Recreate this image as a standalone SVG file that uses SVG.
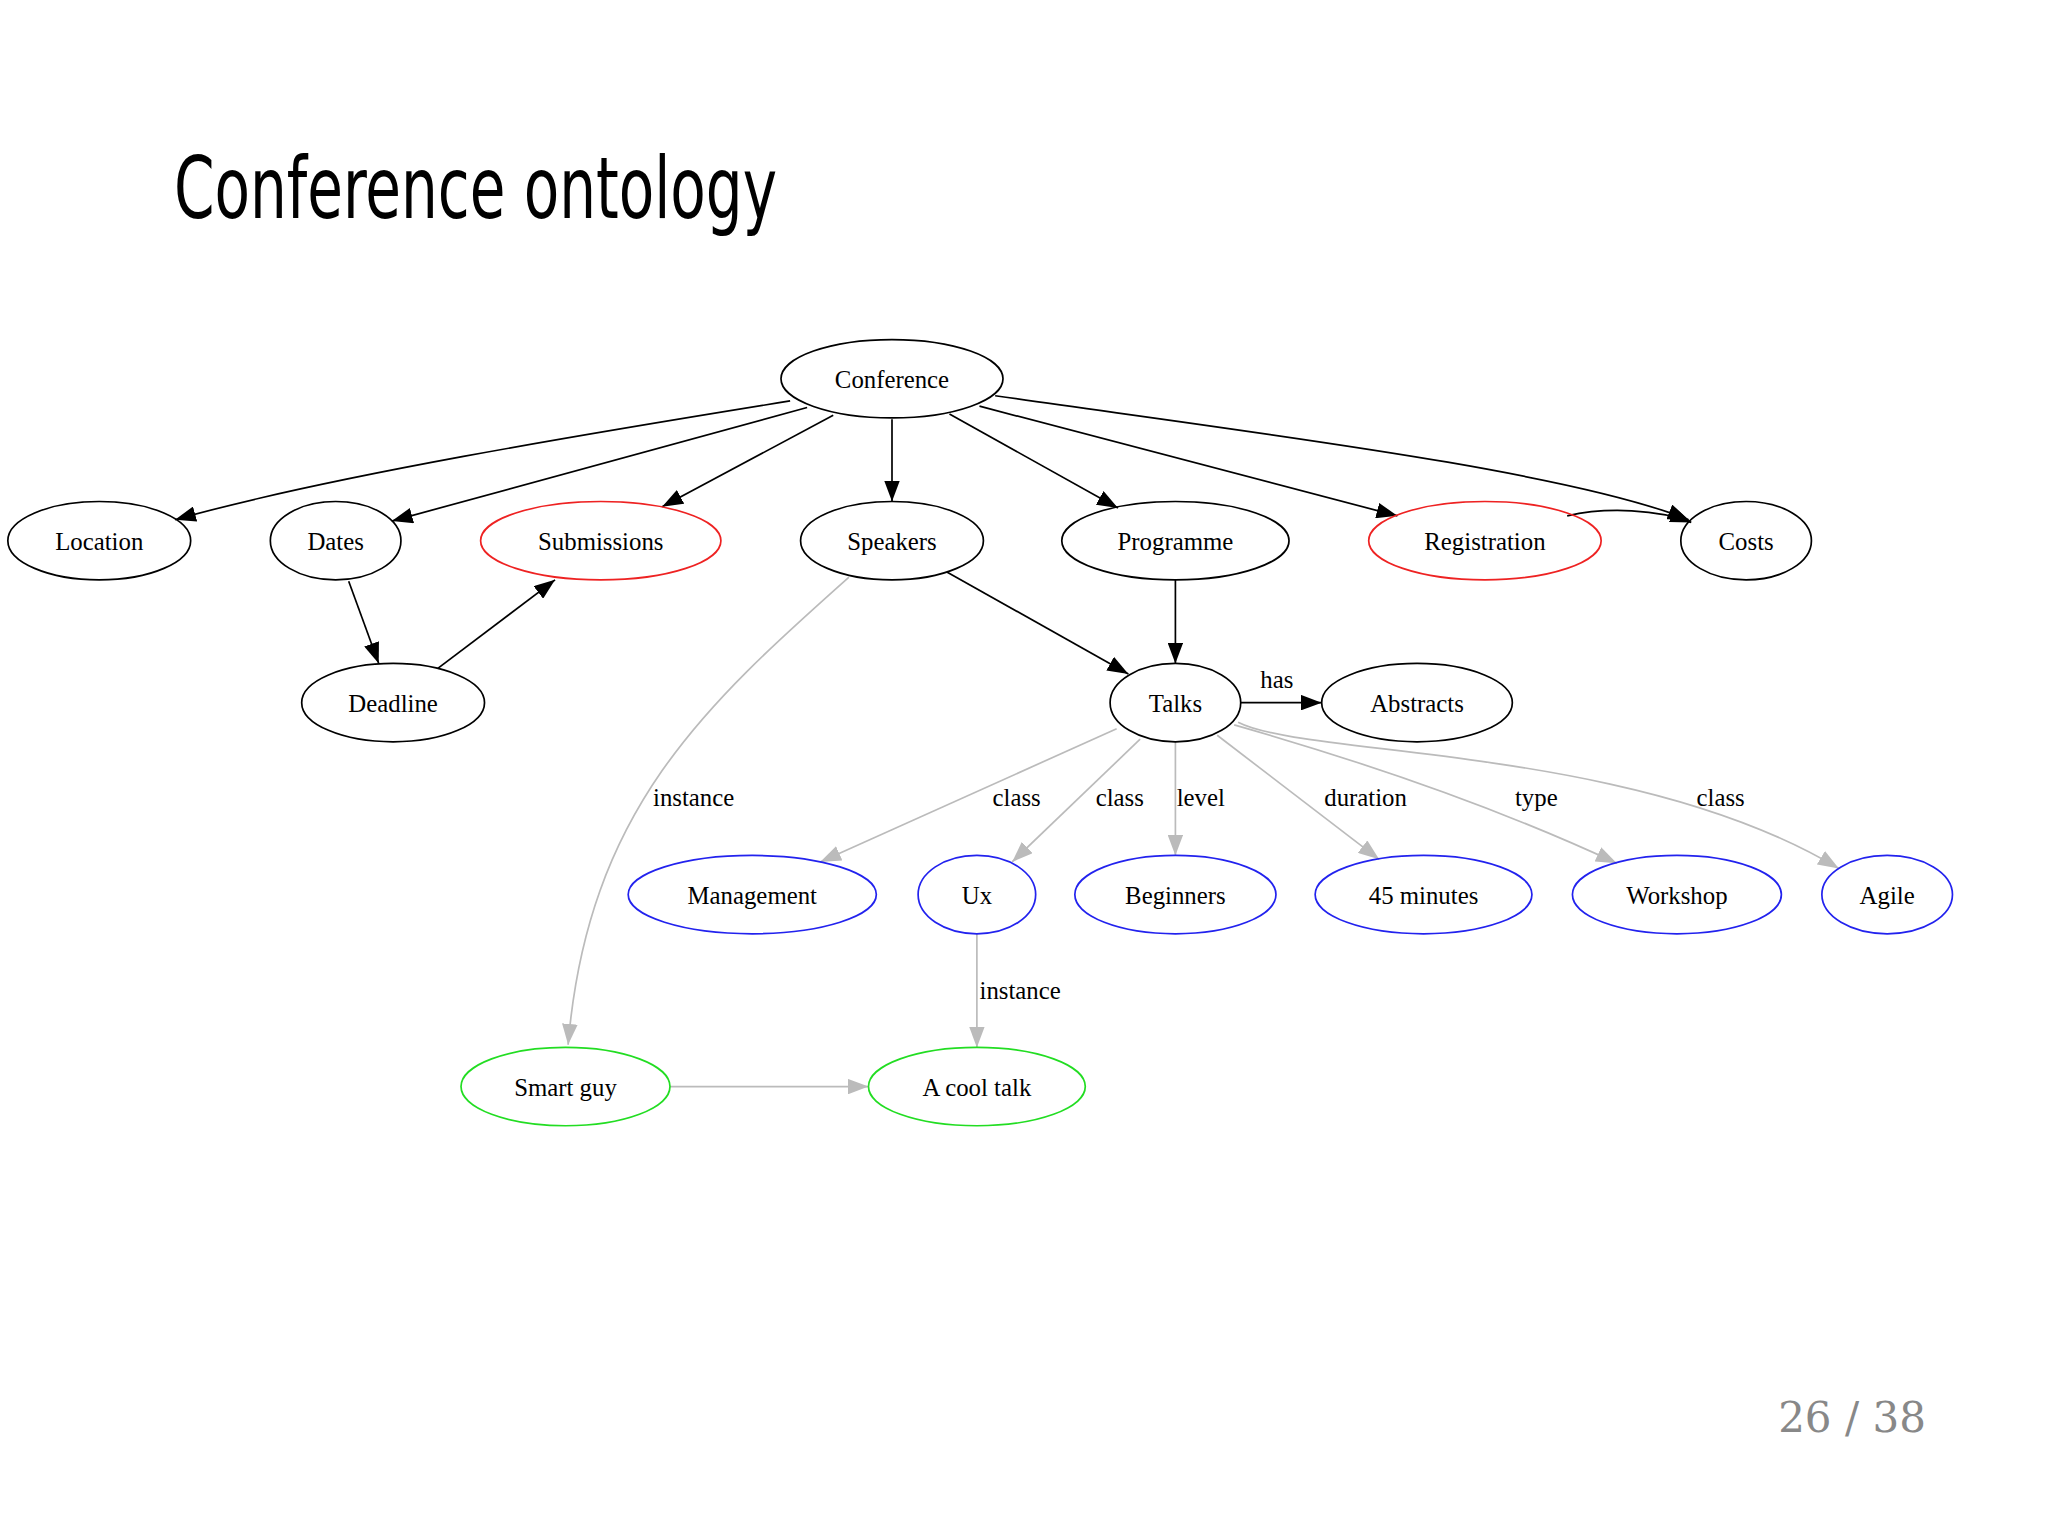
<svg xmlns="http://www.w3.org/2000/svg" width="2048" height="1537" viewBox="0 0 2048 1537">
<style>
.n{fill:none;stroke-width:1.3}
.k{stroke:#000}.r{stroke:#e22}.b{stroke:#22e}.g{stroke:#2d2}
.t{font-family:"Liberation Serif",serif;font-size:19px;text-anchor:middle;fill:#000}
.e{fill:none;stroke-width:1.3}
.eb{stroke:#000}.eg{stroke:#bbb}
.l{font-family:"Liberation Serif",serif;font-size:19px;fill:#000}
</style>
<defs>
<marker id="ab" markerUnits="userSpaceOnUse" markerWidth="18" markerHeight="12" refX="16" refY="6" orient="auto"><path d="M0,0L16,6L0,12z" fill="#000"/></marker>
<marker id="ag" markerUnits="userSpaceOnUse" markerWidth="18" markerHeight="12" refX="16" refY="6" orient="auto"><path d="M0,0L16,6L0,12z" fill="#bbb"/></marker>
</defs>
<rect width="2048" height="1537" fill="#fff"/>
<text x="174" y="218" font-family="DejaVu Sans Condensed,sans-serif" font-size="86" textLength="603" lengthAdjust="spacingAndGlyphs" fill="#000">Conference ontology</text>
<text x="1852" y="1432" font-family="DejaVu Serif,serif" font-size="42" text-anchor="middle" fill="#888">26 / 38</text>
<g transform="scale(1.306)">
<g id="edges">
<path class="e eb" d="M605,307C450,332 250,365 134,398" marker-end="url(#ab)"/>
<path class="e eb" d="M618,312L300,399" marker-end="url(#ab)"/>
<path class="e eb" d="M638,318L507,388" marker-end="url(#ab)"/>
<path class="e eb" d="M683,321L683,384" marker-end="url(#ab)"/>
<path class="e eb" d="M727,317L856,389" marker-end="url(#ab)"/>
<path class="e eb" d="M750,311L1070,395" marker-end="url(#ab)"/>
<path class="e eb" d="M762,303C950,330 1200,360 1293,398" marker-end="url(#ab)"/>
<path class="e eb" d="M1200,395C1230,388 1270,390 1295,400" marker-end="url(#ab)"/>
<path class="e eb" d="M267,445L290,508" marker-end="url(#ab)"/>
<path class="e eb" d="M335,512L425,444" marker-end="url(#ab)"/>
<path class="e eb" d="M725,438L864,516" marker-end="url(#ab)"/>
<path class="e eb" d="M900,444L900,508" marker-end="url(#ab)"/>
<path class="e eb" d="M950,538L1012,538" marker-end="url(#ab)"/>
<path class="e eg" d="M650,442C540,540 450,620 435,800" marker-end="url(#ag)"/>
<path class="e eg" d="M855,558L628,660" marker-end="url(#ag)"/>
<path class="e eg" d="M873,566L775,660" marker-end="url(#ag)"/>
<path class="e eg" d="M900,568L900,655" marker-end="url(#ag)"/>
<path class="e eg" d="M932,563L1056,658" marker-end="url(#ag)"/>
<path class="e eg" d="M945,555C1050,585 1150,620 1238,661" marker-end="url(#ag)"/>
<path class="e eg" d="M948,553C1000,580 1250,570 1408,665" marker-end="url(#ag)"/>
<path class="e eg" d="M748,715L748,802" marker-end="url(#ag)"/>
<path class="e eg" d="M513,832L665,832" marker-end="url(#ag)"/>
<text class="l" x="500" y="617">instance</text>
<text class="l" x="760" y="617">class</text>
<text class="l" x="839" y="617">class</text>
<text class="l" x="901" y="617">level</text>
<text class="l" x="1014" y="617">duration</text>
<text class="l" x="1160" y="617">type</text>
<text class="l" x="1299" y="617">class</text>
<text class="l" x="965" y="527">has</text>
<text class="l" x="750" y="765">instance</text>
</g>
<g id="conference"><ellipse class="n k" cx="683" cy="290" rx="85" ry="30"/><text class="t" x="683" y="297">Conference</text></g>
<g id="location"><ellipse class="n k" cx="76" cy="414" rx="70" ry="30"/><text class="t" x="76" y="421">Location</text></g>
<g id="dates"><ellipse class="n k" cx="257" cy="414" rx="50" ry="30"/><text class="t" x="257" y="421">Dates</text></g>
<g id="submissions"><ellipse class="n r" cx="460" cy="414" rx="92" ry="30"/><text class="t" x="460" y="421">Submissions</text></g>
<g id="speakers"><ellipse class="n k" cx="683" cy="414" rx="70" ry="30"/><text class="t" x="683" y="421">Speakers</text></g>
<g id="programme"><ellipse class="n k" cx="900" cy="414" rx="87" ry="30"/><text class="t" x="900" y="421">Programme</text></g>
<g id="registration"><ellipse class="n r" cx="1137" cy="414" rx="89" ry="30"/><text class="t" x="1137" y="421">Registration</text></g>
<g id="costs"><ellipse class="n k" cx="1337" cy="414" rx="50" ry="30"/><text class="t" x="1337" y="421">Costs</text></g>
<g id="deadline"><ellipse class="n k" cx="301" cy="538" rx="70" ry="30"/><text class="t" x="301" y="545">Deadline</text></g>
<g id="talks"><ellipse class="n k" cx="900" cy="538" rx="50" ry="30"/><text class="t" x="900" y="545">Talks</text></g>
<g id="abstracts"><ellipse class="n k" cx="1085" cy="538" rx="73" ry="30"/><text class="t" x="1085" y="545">Abstracts</text></g>
<g id="management"><ellipse class="n b" cx="576" cy="685" rx="95" ry="30"/><text class="t" x="576" y="692">Management</text></g>
<g id="ux"><ellipse class="n b" cx="748" cy="685" rx="45" ry="30"/><text class="t" x="748" y="692">Ux</text></g>
<g id="beginners"><ellipse class="n b" cx="900" cy="685" rx="77" ry="30"/><text class="t" x="900" y="692">Beginners</text></g>
<g id="minutes"><ellipse class="n b" cx="1090" cy="685" rx="83" ry="30"/><text class="t" x="1090" y="692">45 minutes</text></g>
<g id="workshop"><ellipse class="n b" cx="1284" cy="685" rx="80" ry="30"/><text class="t" x="1284" y="692">Workshop</text></g>
<g id="agile"><ellipse class="n b" cx="1445" cy="685" rx="50" ry="30"/><text class="t" x="1445" y="692">Agile</text></g>
<g id="smartguy"><ellipse class="n g" cx="433" cy="832" rx="80" ry="30"/><text class="t" x="433" y="839">Smart guy</text></g>
<g id="cooltalk"><ellipse class="n g" cx="748" cy="832" rx="83" ry="30"/><text class="t" x="748" y="839">A cool talk</text></g>
</g>
</svg>
